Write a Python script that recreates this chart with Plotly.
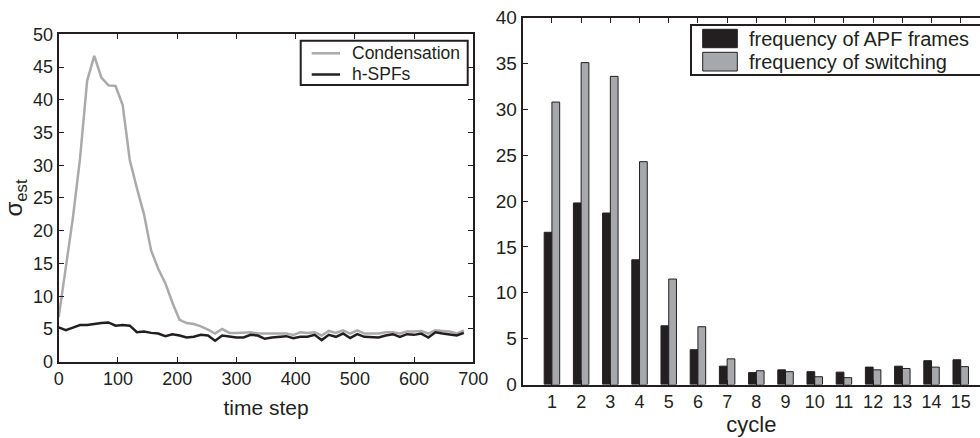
import plotly.graph_objects as go

# ---- left panel data ----
time_steps = list(range(0, 685, 12))
condensation = [6.8, 14.5, 22.0, 31.0, 42.9, 46.7, 43.4, 42.2, 42.1, 39.2,
                30.8, 26.5, 22.5, 17.0, 14.2, 12.0, 9.0, 6.4, 5.9, 5.75,
                5.4, 4.9, 4.3, 5.0, 4.4, 4.4, 4.4, 4.5, 4.3, 4.3,
                4.4, 4.4, 4.3, 4.1, 4.5, 4.4, 4.5, 4.0, 4.7, 4.4,
                4.8, 4.3, 4.8, 4.3, 4.3, 4.3, 4.5, 4.5, 4.3, 4.6,
                4.6, 4.7, 4.3, 4.8, 4.7, 4.6, 4.3, 4.8]
h_spfs = [5.25, 4.8, 5.2, 5.6, 5.6, 5.8, 5.9, 6.0, 5.5, 5.6,
          5.5, 4.5, 4.6, 4.4, 4.3, 3.9, 4.2, 4.0, 3.7, 3.8,
          4.1, 4.0, 3.2, 4.0, 3.8, 3.7, 3.7, 4.1, 4.0, 3.5,
          3.7, 3.8, 3.9, 3.6, 3.8, 3.8, 4.1, 3.3, 4.1, 3.8,
          4.3, 3.6, 4.2, 3.8, 3.8, 3.7, 4.0, 4.2, 3.8, 4.2,
          4.1, 4.3, 3.7, 4.5, 4.3, 4.2, 4.0, 4.4]
left_xticks = [0, 100, 200, 300, 400, 500, 600, 700]
left_yticks = [0, 5, 10, 15, 20, 25, 30, 35, 40, 45, 50]
left_names = ["Condensation", "h-SPFs"]

# ---- right panel data ----
cycles = list(range(1, 16))
apf_frames = [16.6, 19.8, 18.7, 13.6, 6.4, 3.8, 2.0, 1.3, 1.6, 1.4,
              1.35, 1.9, 2.0, 2.6, 2.7]
switching = [30.8, 35.1, 33.6, 24.3, 11.5, 6.3, 2.8, 1.5, 1.4, 0.85,
             0.75, 1.6, 1.75, 1.9, 1.95]
right_yticks = [0, 5, 10, 15, 20, 25, 30, 35, 40]
right_names = ["frequency of APF frames", "frequency of switching"]

INK = "#231f20"
LGRAY = "#aaaaaa"
BGRAY = "#a6a8ab"
FONT = "Liberation Sans, Arial, sans-serif"
W, H = 980, 438


def px(x):
    return x / W


def py(y):
    return 1 - y / H


fig = go.Figure()
fig.add_trace(go.Scatter(x=time_steps, y=condensation, mode="lines", name=left_names[0],
                         line=dict(color=LGRAY, width=2.5), xaxis="x", yaxis="y"))
fig.add_trace(go.Scatter(x=time_steps, y=h_spfs, mode="lines", name=left_names[1],
                         line=dict(color=INK, width=2.5), xaxis="x", yaxis="y"))
fig.add_trace(go.Bar(x=cycles, y=apf_frames, name=right_names[0],
                     marker=dict(color=INK, line=dict(color=INK, width=1)),
                     xaxis="x2", yaxis="y2"))
fig.add_trace(go.Bar(x=cycles, y=switching, name=right_names[1],
                     marker=dict(color=BGRAY, line=dict(color=INK, width=1)),
                     xaxis="x2", yaxis="y2"))

axis_common = dict(showline=True, linewidth=2, linecolor=INK, ticks="inside", ticklen=5,
                   tickwidth=1, tickcolor=INK, showgrid=False, zeroline=False,
                   automargin=False,
                   tickfont=dict(size=18, color=INK, family=FONT))

# ---- legend boxes drawn as layout decorations ----
shapes = [
    # left legend frame
    dict(type="rect", xref="paper", yref="paper", x0=px(300.7), x1=px(467.7),
         y0=py(85), y1=py(40.7), line=dict(color=INK, width=2), fillcolor="white", layer="above"),
    dict(type="line", xref="paper", yref="paper", x0=px(311.7), x1=px(340),
         y0=py(53.3), y1=py(53.3), line=dict(color=LGRAY, width=2.5), layer="above"),
    dict(type="line", xref="paper", yref="paper", x0=px(311.7), x1=px(340),
         y0=py(74.5), y1=py(74.5), line=dict(color=INK, width=2.5), layer="above"),
    # right legend frame (runs off the right edge as in the source)
    dict(type="rect", xref="paper", yref="paper", x0=px(691), x1=px(995),
         y0=py(75), y1=py(25), line=dict(color=INK, width=2), fillcolor="white", layer="above"),
    dict(type="rect", xref="paper", yref="paper", x0=px(702.7), x1=px(737.3),
         y0=py(47.7), y1=py(29.3), line=dict(color=INK, width=1), fillcolor=INK, layer="above"),
    dict(type="rect", xref="paper", yref="paper", x0=px(702.7), x1=px(737.3),
         y0=py(71), y1=py(52.3), line=dict(color=INK, width=1), fillcolor=BGRAY, layer="above"),
]
annotations = [
    dict(text=left_names[0], xref="paper", yref="paper", x=px(350), y=py(53.3),
         xanchor="left", yanchor="middle", showarrow=False,
         font=dict(size=17.5, color=INK, family=FONT)),
    dict(text=left_names[1], xref="paper", yref="paper", x=px(350), y=py(74.5),
         xanchor="left", yanchor="middle", showarrow=False,
         font=dict(size=17.5, color=INK, family=FONT)),
    dict(text=right_names[0], xref="paper", yref="paper", x=px(747), y=py(39.5),
         xanchor="left", yanchor="middle", showarrow=False,
         font=dict(size=20, color=INK, family=FONT)),
    dict(text=right_names[1], xref="paper", yref="paper", x=px(747), y=py(61.5),
         xanchor="left", yanchor="middle", showarrow=False,
         font=dict(size=20, color=INK, family=FONT)),
]

fig.update_layout(
    width=W, height=H,
    margin=dict(l=0, r=0, t=0, b=0, autoexpand=False),
    paper_bgcolor="white", plot_bgcolor="white",
    font=dict(family=FONT, color=INK),
    showlegend=False,
    barmode="group", bargap=0.47, bargroupgap=0.0,
    xaxis=dict(domain=[0.0599, 0.4830], range=[0, 700], tickvals=left_xticks,
               mirror="ticks", anchor="y",
               title=dict(text="time step", font=dict(size=21, color=INK), standoff=12),
               **axis_common),
    yaxis=dict(domain=[0.1742, 0.9217], range=[0, 50], tickvals=left_yticks,
               mirror="ticks", anchor="x",
               title=dict(text="σ<sub>est</sub>", font=dict(size=24, color=INK), standoff=4),
               **axis_common),
    xaxis2=dict(domain=[0.5334, 1.0], range=[0, 15.66], tickvals=cycles,
                mirror="ticks", anchor="y2",
                title=dict(text="cycle", font=dict(size=22, color=INK), standoff=2),
                **axis_common),
    yaxis2=dict(domain=[0.1221, 0.9596], range=[0, 40], tickvals=right_yticks,
                anchor="x2",
                **{**axis_common, "tickfont": dict(size=19, color=INK, family=FONT)}),
    shapes=shapes,
    annotations=annotations,
)

fig.write_html("out.html", config={"displayModeBar": False},
               post_script="document.body.style.margin='0';document.body.style.overflow='hidden';")
